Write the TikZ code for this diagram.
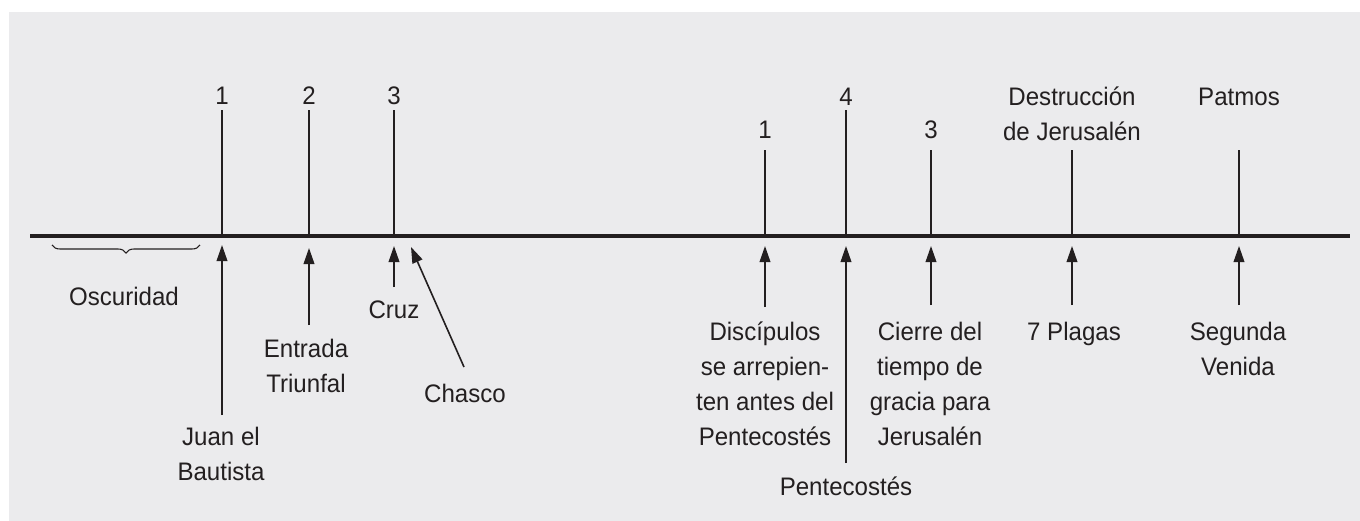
\documentclass[tikz,border=0pt]{standalone}
\usepackage{fontspec}
\setmainfont{Liberation Sans}[FakeStretch=0.95]
\usetikzlibrary{arrows.meta,decorations.pathreplacing}
\definecolor{ink}{HTML}{231F20}
\definecolor{bg}{HTML}{EBEBED}
\begin{document}
\begin{tikzpicture}[x=0.75pt,y=-0.75pt,
  lbl/.style={font=\fontsize{19}{26.25}\selectfont, align=center, inner sep=0pt, text=ink, anchor=base},
  axis/.style={draw=ink, line width=2.4pt},
  tick/.style={draw=ink, line width=2pt},
  arr/.style={draw=ink, line width=1.2pt, -{Triangle[length=12pt,width=8pt]}},
  brc/.style={draw=ink, line width=0.8pt, decorate, decoration={brace, mirror, amplitude=6pt}}]
\useasboundingbox (0,0) rectangle (1360,521);
\fill[bg] (9,12) rectangle (1360,521);
% main line
\coordinate (L) at (30,236);
\coordinate (R) at (1350,236);
\draw[axis] (L) -- (R);
% ticks
\foreach \n/\x/\t in {a/222/110, b/309/110, c/394/110, d/765/150, e/846/110, f/931/150, g/1072/150, h/1239/150}{
  \coordinate (\n0) at (\x,236);
  \coordinate (\n1) at (\x,\t);
  \draw[tick] (\n0) -- (\n1);
}
% top labels (anchor = baseline of last line)
\node[lbl] (ta) at (222,104) {1};
\node[lbl] (tb) at (309,104) {2};
\node[lbl] (tc) at (394,104) {3};
\node[lbl] (td) at (765,138) {1};
\node[lbl] (te) at (846,105) {4};
\node[lbl] (tf) at (931,138) {3};
\node[lbl] (tg) at (1072,140) {Destrucción\\de Jerusalén};
\node[lbl] (th) at (1239,105) {Patmos};
% brace
\coordinate (bl) at (52,245);
\coordinate (br) at (200,245);
\draw[brc] (bl) -- (br);
\node[lbl] (osc) at (124,305) {Oscuridad};
% bottom labels
\node[lbl] (jb) at (221,480) {Juan el\\Bautista};
\node[lbl] (et) at (306,392) {Entrada\\Triunfal};
\node[lbl] (cz) at (394,318) {Cruz};
\node[lbl] (ch) at (465,402) {Chasco};
\node[lbl] (dp) at (765,445) {Discípulos\\se arrepien-\\ten antes del\\Pentecostés};
\node[lbl] (pt) at (846,495) {Pentecostés};
\node[lbl] (ci) at (930,445) {Cierre del\\tiempo de\\gracia para\\Jerusalén};
\node[lbl] (sp) at (1074,340) {7 Plagas};
\node[lbl] (sv) at (1238,375) {Segunda\\Venida};
% arrows
\coordinate (jbS) at (222,415); \coordinate (jbT) at (222,245);
\coordinate (etS) at (309,325); \coordinate (etT) at (309,248);
\coordinate (czS) at (394,287); \coordinate (czT) at (394,246);
\coordinate (chS) at (464,367); \coordinate (chT) at (411,247);
\coordinate (dpS) at (765,307); \coordinate (dpT) at (765,246);
\coordinate (ptS) at (846,463); \coordinate (ptT) at (846,246);
\coordinate (ciS) at (931,305); \coordinate (ciT) at (931,246);
\coordinate (spS) at (1072,305); \coordinate (spT) at (1072,246);
\coordinate (svS) at (1239,305); \coordinate (svT) at (1239,246);
\foreach \a in {jb,et,cz,ch,dp,pt,ci,sp,sv}{
  \draw[arr] (\a S) -- (\a T);
}
\end{tikzpicture}
\end{document}
